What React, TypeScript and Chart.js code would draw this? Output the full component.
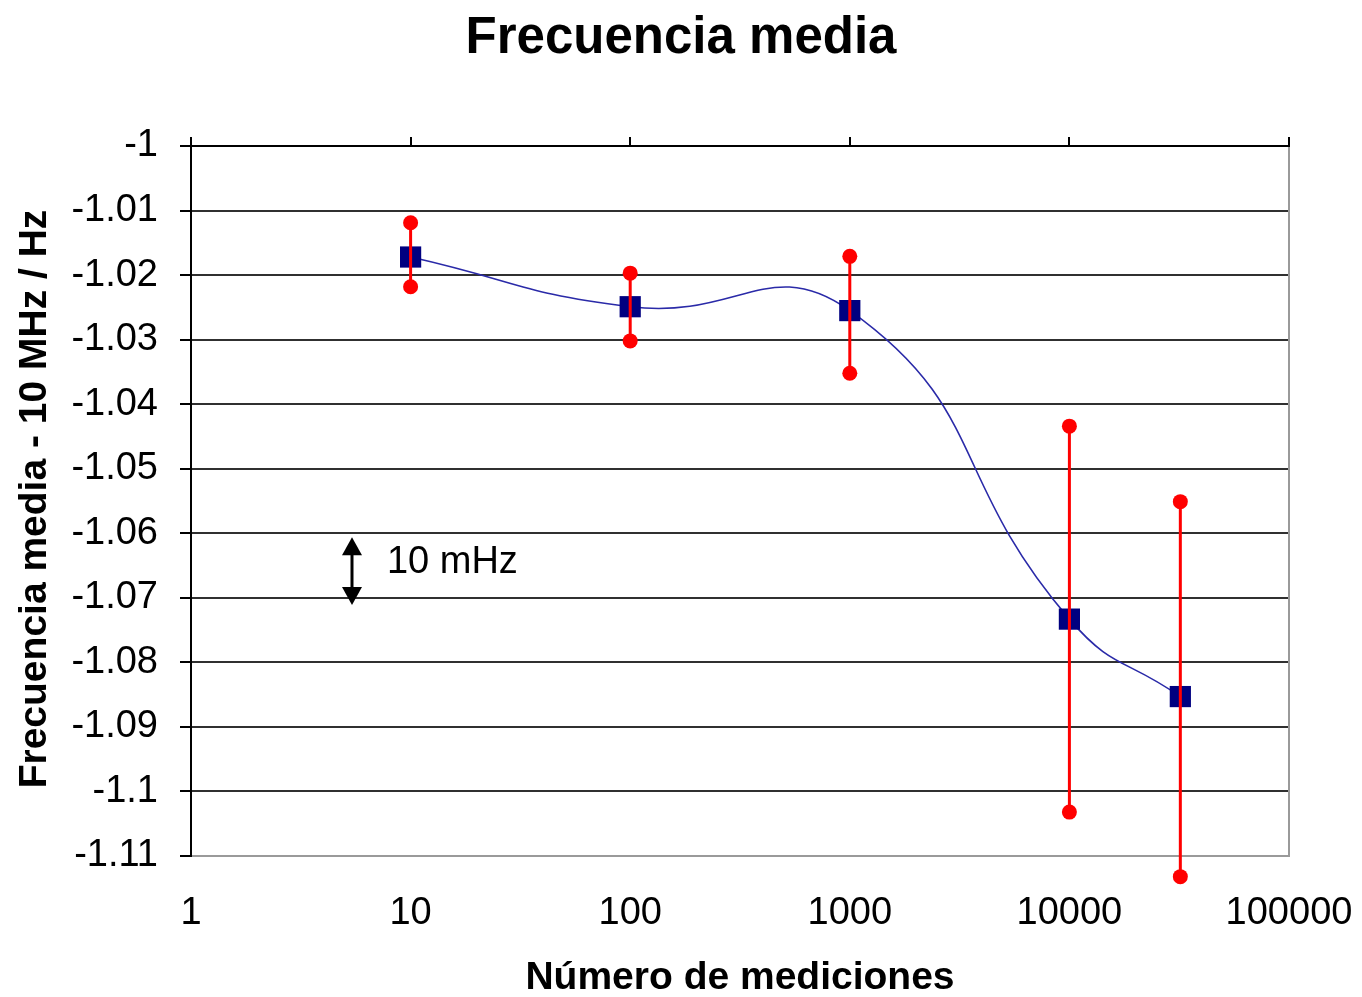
import React, { useEffect, useRef } from "react";
import { Chart, registerables } from "chart.js";

Chart.register(...registerables);

// ---- Data ----
const TITLE = "Frecuencia media";
const X_TITLE = "Número de mediciones";
const Y_TITLE = "Frecuencia media - 10 MHz / Hz";

const mediciones = [10, 100, 1000, 10000, 32000];
const frecuenciaMedia = [-1.0172, -1.0249, -1.0255, -1.0733, -1.0853];
const errorSuperior = [-1.0119, -1.0197, -1.0171, -1.0434, -1.0551];
const errorInferior = [-1.0218, -1.0302, -1.0352, -1.1032, -1.1132];

const xTicks = [1, 10, 100, 1000, 10000, 100000];
const yTicks = [-1, -1.01, -1.02, -1.03, -1.04, -1.05, -1.06, -1.07, -1.08, -1.09, -1.1, -1.11];

// annotation "10 mHz" scale marker
const ANNOT_LABEL = "10 mHz";
const annotArrowX = 5.4;
const annotArrowTop = -1.0606;
const annotArrowBottom = -1.0711;
const annotTextX = 7.8;
const annotTextY = -1.0642;

const FONT = "'Liberation Sans', Arial, Helvetica, sans-serif";
const ERR_COLOR = "#ff0000";
const ERR_RADIUS = 7.5;

const extrasPlugin = {
  id: "extras",
  beforeDatasetsDraw(chart: any) {
    const { ctx, chartArea, scales } = chart;
    const x = scales.x;
    ctx.save();
    // right border (gray)
    ctx.strokeStyle = "#9a9a9a";
    ctx.lineWidth = 2;
    ctx.beginPath();
    ctx.moveTo(chartArea.right, chartArea.top);
    ctx.lineTo(chartArea.right, chartArea.bottom);
    ctx.stroke();
    // top axis line (black) with upward ticks
    ctx.strokeStyle = "#000";
    ctx.lineWidth = 2;
    ctx.beginPath();
    ctx.moveTo(chartArea.left - 11, chartArea.top);
    ctx.lineTo(chartArea.right + 1, chartArea.top);
    ctx.stroke();
    ctx.beginPath();
    xTicks.forEach((v) => {
      const px = Math.round(x.getPixelForValue(v));
      ctx.moveTo(px, chartArea.top);
      ctx.lineTo(px, chartArea.top - 9);
    });
    ctx.stroke();
    ctx.restore();
  },
  afterDatasetsDraw(chart: any) {
    // end markers that fall outside the chart area are skipped by Chart.js; draw them here
    const { ctx, chartArea } = chart;
    ctx.save();
    ctx.fillStyle = ERR_COLOR;
    chart.data.datasets.forEach((ds: any, di: number) => {
      if (!ds.isErrorBar) return;
      const meta = chart.getDatasetMeta(di);
      meta.data.forEach((pt: any) => {
        if (pt.y > chartArea.bottom + ERR_RADIUS || pt.y < chartArea.top - ERR_RADIUS) {
          ctx.beginPath();
          ctx.arc(pt.x, pt.y, ERR_RADIUS, 0, Math.PI * 2);
          ctx.fill();
        }
      });
    });
    ctx.restore();
  },
  afterDraw(chart: any) {
    const { ctx, chartArea, scales } = chart;
    const x = scales.x;
    const y = scales.y;
    ctx.save();
    ctx.fillStyle = "#000";
    // main title
    ctx.font = `bold 51px ${FONT}`;
    ctx.textAlign = "center";
    ctx.textBaseline = "alphabetic";
    ctx.fillText(TITLE, 681, 53);
    // x title
    ctx.font = `bold 39px ${FONT}`;
    ctx.fillText(X_TITLE, (chartArea.left + chartArea.right) / 2, 989);
    // y title
    ctx.save();
    ctx.translate(46, (chartArea.top + chartArea.bottom) / 2 - 2);
    ctx.rotate(-Math.PI / 2);
    ctx.fillText(Y_TITLE, 0, 0);
    ctx.restore();

    // arrow annotation
    const ax = Math.round(x.getPixelForValue(annotArrowX));
    const at = y.getPixelForValue(annotArrowTop);
    const ab = y.getPixelForValue(annotArrowBottom);
    const headH = 18;
    const headW = 10;
    ctx.strokeStyle = "#000";
    ctx.lineWidth = 3;
    ctx.beginPath();
    ctx.moveTo(ax, at + headH - 2);
    ctx.lineTo(ax, ab - headH + 2);
    ctx.stroke();
    ctx.beginPath();
    ctx.moveTo(ax, at);
    ctx.lineTo(ax - headW, at + headH);
    ctx.lineTo(ax + headW, at + headH);
    ctx.closePath();
    ctx.fill();
    ctx.beginPath();
    ctx.moveTo(ax, ab);
    ctx.lineTo(ax - headW, ab - headH);
    ctx.lineTo(ax + headW, ab - headH);
    ctx.closePath();
    ctx.fill();

    ctx.font = `38px ${FONT}`;
    ctx.textAlign = "left";
    ctx.textBaseline = "alphabetic";
    ctx.fillText(ANNOT_LABEL, x.getPixelForValue(annotTextX), y.getPixelForValue(annotTextY) + 13);
    ctx.restore();
  },
};

export default function App() {
  const canvasRef = useRef<HTMLCanvasElement | null>(null);

  useEffect(() => {
    const canvas = canvasRef.current;
    if (!canvas) return;

    const errorDatasets = mediciones.map((m, i) => ({
      type: "line" as const,
      isErrorBar: true,
      data: [
        { x: m, y: errorSuperior[i] },
        { x: m, y: errorInferior[i] },
      ],
      borderColor: ERR_COLOR,
      borderWidth: 3,
      pointStyle: "circle",
      pointRadius: ERR_RADIUS,
      pointBackgroundColor: ERR_COLOR,
      pointBorderColor: ERR_COLOR,
      pointBorderWidth: 0,
      tension: 0,
      clip: false,
      order: 1,
    }));

    const chart = new Chart(canvas, {
      type: "line",
      data: {
        datasets: [
          {
            data: mediciones.map((m, i) => ({ x: m, y: frecuenciaMedia[i] })),
            borderColor: "#2a2aa8",
            borderWidth: 1.6,
            tension: 0.5,
            pointStyle: "rect",
            pointRadius: 15,
            pointBackgroundColor: "#000080",
            pointBorderColor: "#000080",
            pointBorderWidth: 0,
            clip: false,
            order: 2,
          } as any,
          ...(errorDatasets as any[]),
        ],
      },
      options: {
        responsive: false,
        animation: false,
        devicePixelRatio: 1,
        layout: { padding: { top: 146, right: 73, left: 0, bottom: 0 } },
        plugins: {
          legend: { display: false },
          tooltip: { enabled: false },
          title: { display: false },
        },
        scales: {
          x: {
            type: "logarithmic",
            position: "bottom",
            min: 1,
            max: 100000,
            afterBuildTicks: (scale: any) => {
              scale.ticks = xTicks.map((v) => ({ value: v }));
            },
            afterFit: (scale: any) => {
              scale.height = 141;
              scale.paddingLeft = 0;
              scale.paddingRight = 0;
            },
            grid: { display: false, drawTicks: false },
            border: { display: true, color: "#9a9a9a", width: 2 },
            ticks: {
              autoSkip: false,
              maxRotation: 0,
              padding: 35,
              color: "#000",
              font: { family: FONT, size: 38 },
              callback: (v: any) => String(v),
            },
          },
          y: {
            type: "linear",
            position: "left",
            min: -1.11,
            max: -1,
            afterBuildTicks: (scale: any) => {
              scale.ticks = yTicks.map((v) => ({ value: v }));
            },
            afterFit: (scale: any) => {
              scale.width = 191;
              scale.paddingTop = 0;
              scale.paddingBottom = 0;
            },
            grid: {
              color: (c: any) => (c.tick && c.tick.value === -1.11 ? "#9a9a9a" : "#303030"),
              lineWidth: 2,
              tickLength: 11,
              tickColor: "#000",
              drawTicks: true,
            },
            border: { display: true, color: "#000", width: 2 },
            ticks: {
              autoSkip: false,
              padding: 22,
              color: "#000",
              font: { family: FONT, size: 38 },
              callback: (v: any) => String(v),
            },
          },
        },
      } as any,
      plugins: [extrasPlugin],
    });

    return () => {
      chart.destroy();
    };
  }, []);

  return (
    <canvas
      ref={canvasRef}
      width={1362}
      height={997}
      style={{ position: "absolute", left: 0, top: 0, display: "block", background: "#fff" }}
    />
  );
}
